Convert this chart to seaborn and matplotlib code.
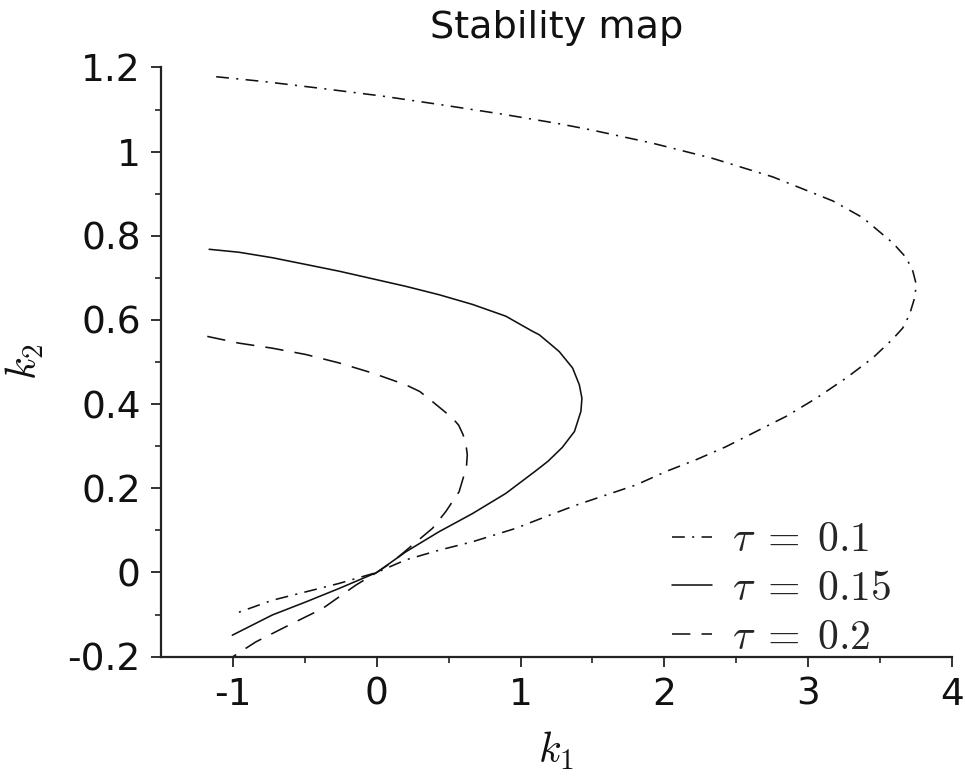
import matplotlib
matplotlib.use("Agg")
import matplotlib.pyplot as plt
import seaborn as sns
import pandas as pd

# Stability boundaries in the (k1, k2) plane for three delays
tau_labels = [r"$\tau\;=\;0.1$", r"$\tau\;=\;0.15$", r"$\tau\;=\;0.2$"]

k1_tau010 = [-1.116, -0.795, -0.378, 0.040, 0.457, 0.875, 1.258, 1.501, 1.919,
             2.336, 2.754, 3.171, 3.380, 3.589, 3.682, 3.728, 3.752, 3.740,
             3.705, 3.658, 3.589, 3.450, 3.264, 3.056, 2.847, 2.638, 2.429,
             2.221, 2.012, 1.803, 1.594, 1.386, 1.177, 0.968, 0.666, 0.434,
             0.202, 0.000, -0.262, -0.493, -0.726, -1.004]
k2_tau010 = [1.178, 1.167, 1.150, 1.132, 1.111, 1.089, 1.067, 1.051, 1.020,
             0.984, 0.940, 0.883, 0.843, 0.783, 0.748, 0.716, 0.684, 0.652,
             0.613, 0.581, 0.555, 0.510, 0.462, 0.414, 0.371, 0.335, 0.299,
             0.268, 0.240, 0.208, 0.184, 0.160, 0.133, 0.105, 0.073, 0.053,
             0.030, 0.000, -0.026, -0.046, -0.066, -0.100]

k1_tau015 = [-1.165, -0.958, -0.726, -0.493, -0.262, -0.030, 0.202, 0.434,
             0.666, 0.898, 1.084, 1.130, 1.200, 1.269, 1.362, 1.409, 1.427,
             1.420, 1.375, 1.290, 1.190, 1.100, 0.898, 0.666, 0.434, 0.202,
             0.000, -0.262, -0.493, -0.726, -1.004]
k2_tau015 = [0.768, 0.761, 0.748, 0.732, 0.716, 0.698, 0.680, 0.660,
             0.637, 0.609, 0.573, 0.565, 0.545, 0.525, 0.486, 0.446, 0.414,
             0.383, 0.335, 0.297, 0.264, 0.240, 0.188, 0.140, 0.097, 0.049,
             0.000, -0.038, -0.070, -0.101, -0.149]

k1_tau020 = [-1.178, -0.958, -0.726, -0.493, -0.262, -0.030, 0.202, 0.300,
             0.388, 0.527, 0.570, 0.600, 0.620, 0.630, 0.625, 0.615, 0.573,
             0.481, 0.388, 0.248, 0.109, 0.000, -0.145, -0.378, -0.610,
             -0.841, -1.004]
k2_tau020 = [0.561, 0.545, 0.533, 0.518, 0.498, 0.474, 0.446, 0.430,
             0.406, 0.367, 0.350, 0.328, 0.305, 0.280, 0.255, 0.240, 0.192,
             0.145, 0.105, 0.065, 0.025, 0.000, -0.030, -0.086, -0.125,
             -0.165, -0.201]

xticks = [-1, 0, 1, 2, 3, 4]
xtick_labels = ["-1", "0", "1", "2", "3", "4"]
yticks = [-0.2, 0, 0.2, 0.4, 0.6, 0.8, 1.0, 1.2]
ytick_labels = ["-0.2", "0", "0.2", "0.4", "0.6", "0.8", "1", "1.2"]

sns.set_style("ticks")
plt.rcParams["font.family"] = ["DejaVu Sans"]
plt.rcParams["mathtext.fontset"] = "cm"

fig = plt.figure(figsize=(9.65, 7.81), dpi=100)
ax = fig.add_axes([0.1668, 0.1592, 0.8197, 0.7544])

curves = [
    (k1_tau010, k2_tau010, (0, (8, 4.6, 1.3, 4.6))),
    (k1_tau015, k2_tau015, "-"),
    (k1_tau020, k2_tau020, (0, (11.5, 7))),
]
for (k1, k2, ls), lab in zip(curves, tau_labels):
    df = pd.DataFrame({"k1": k1, "k2": k2})
    sns.lineplot(data=df, x="k1", y="k2", sort=False, estimator=None,
                 color="#111111", linewidth=1.15, linestyle=ls, label=lab, ax=ax)

ax.set_xlim(-1.5, 4)
ax.set_ylim(-0.2, 1.2)
ax.set_xticks(xticks)
ax.set_xticklabels(xtick_labels)
ax.set_yticks(yticks)
ax.set_yticklabels(ytick_labels)
ax.set_xticks([-0.5, 0.5, 1.5, 2.5, 3.5], minor=True)
ax.set_yticks([-0.1, 0.1, 0.3, 0.5, 0.7, 0.9, 1.1], minor=True)
ax.tick_params(axis="both", which="major", length=7.5, width=1.3,
               labelsize=27, pad=7, color="#222222", labelcolor="#111111")
ax.tick_params(axis="both", which="minor", length=4, width=1.2, color="#222222")

for side in ("top", "right"):
    ax.spines[side].set_visible(False)
for side in ("left", "bottom"):
    ax.spines[side].set_linewidth(1.6)
    ax.spines[side].set_color("#222222")

ax.set_title("Stability map", fontsize=27.5, pad=21, color="#111111")
ax.set_xlabel(r"$k_1$", fontsize=30, color="#111111")
ax.set_ylabel(r"$k_2$", fontsize=30, color="#111111")
ax.xaxis.set_label_coords(0.5, -0.125)
ax.yaxis.set_label_coords(-0.145, 0.5)

ax.legend(loc="upper left", bbox_to_anchor=(0.646, 0.235), frameon=False,
          fontsize=30, handlelength=0.95, handletextpad=0.5, labelspacing=0.16,
          borderpad=0, borderaxespad=0)

fig.savefig("out.png", dpi=100)
